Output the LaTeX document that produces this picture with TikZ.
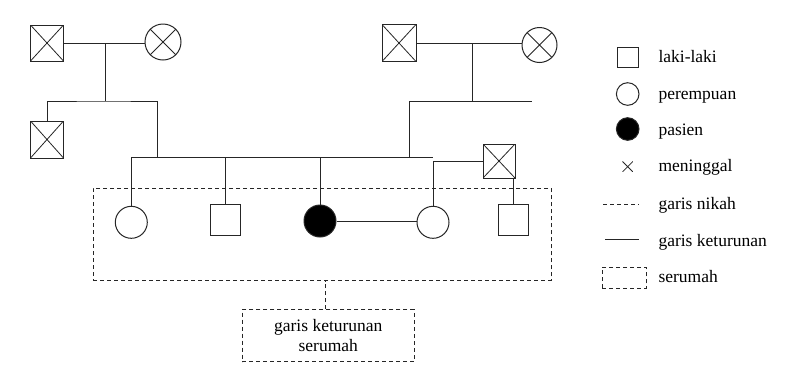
\documentclass[tikz,border=0pt]{standalone}
\usepackage{fontspec}
\setmainfont{Liberation Serif}
\usetikzlibrary{positioning}
\newcommand{\legfont}{\fontsize{17.5}{20}\selectfont}
\tikzset{
  basesym/.style={draw=black!85,line width=1pt,inner sep=0pt},
  malenode/.style={basesym,rectangle,minimum width=33pt,minimum height=36pt},
  femalenode/.style={basesym,circle,minimum size=36pt},
  kidmale/.style={basesym,rectangle,minimum width=30pt,minimum height=31pt},
  kidfemale/.style={basesym,circle,minimum size=32pt},
  patientnode/.style={kidfemale,fill=black},
  deadcross/.style={path picture={
      \draw[line width=0.8pt,black!85]
        (path picture bounding box.north west) -- (path picture bounding box.south east)
        (path picture bounding box.north east) -- (path picture bounding box.south west);}},
  solidline/.style={draw=black!85,line width=1pt},
  dashline/.style={solidline,dash pattern=on 4pt off 3pt},
  homebox/.style={rectangle,dashline,inner sep=0pt},
  legtext/.style={anchor=base west,inner sep=0pt}
}

\begin{document}
\begin{tikzpicture}[x=1pt,y=-1pt,font=\legfont]
  \useasboundingbox[fill=white] (0,0) rectangle (787,365);

  % kakek-nenek
  \node[malenode,deadcross] (kakek1) at (47,43) {};
  \node[femalenode,deadcross] (nenek1) at (163,42) {};
  \node[malenode,deadcross,minimum width=34pt,minimum height=37pt] (kakek2) at (399,43) {};
  \node[femalenode,deadcross,minimum size=35pt] (nenek2) at (539.5,45) {};
  \node[malenode,deadcross,minimum height=37pt] (paman) at (47,139.5) {};
  \node[malenode,deadcross,minimum width=32pt,minimum height=34pt] (mertua) at (499,161) {};

  % generasi pasien
  \node[kidfemale] (anak1) at (131.3,222.3) {};
  \node[kidmale] (anak2) at (225,220) {};
  \node[patientnode] (pasien) at (320,221) {};
  \node[kidfemale] (istri) at (433,222.3) {};
  \node[kidmale] (ipar) at (513.7,220) {};

  \coordinate (m1) at (105,43);
  \coordinate (k1) at (105,101);
  \coordinate (ayah) at (157,157);
  \coordinate (m2) at (472,43);
  \coordinate (k2) at (472,101);
  \coordinate (k2e) at (532,101);
  \coordinate (ibu) at (409,157);
  \coordinate (sibR) at (433,157);

  \draw[solidline] (kakek1) -- (kakek1 -| nenek1.west);
  \draw[solidline] (m1) -- (k1);
  \draw[solidline] (paman.north) |- (k1) -| (ayah);
  \draw[solidline] (kakek2) -- (kakek2 -| nenek2.west);
  \draw[solidline] (m2) -- (k2);
  \draw[solidline] (ibu) |- (k2e);
  \draw[solidline] (anak1.north) |- (sibR);
  \draw[solidline] (anak2.north) -- (anak2.north |- sibR);
  \draw[solidline] (pasien.north) -- (pasien.north |- sibR);
  \draw[solidline] (pasien) -- (pasien -| istri.west);
  \draw[solidline] (istri.north) |- (mertua.west);
  \draw[solidline] (ipar.north) -- (ipar.north |- mertua.south);

  % serumah
  \node[homebox,minimum width=458pt,minimum height=92pt] (rumah) at (322,234.3) {};
  \node[homebox,minimum width=172pt,minimum height=52pt,align=center] (ket)
      at (328.3,335.5) {garis keturunan\\serumah};
  \draw[dashline] ([xshift=-3pt]ket.north) -- ([xshift=-3pt]ket.north |- rumah.south);

  % keterangan
  \node[basesym,rectangle,minimum width=21pt,minimum height=20pt] (legL) at (627.5,57.5) {};
  \node[basesym,circle,minimum size=22.6pt] (legP) at (627.7,94) {};
  \node[basesym,circle,minimum size=22.6pt,fill=black] (legS) at (627.7,129) {};
  \node[deadcross,minimum size=10.5pt,inner sep=0pt] (legM) at (627.7,166.7) {};
  \coordinate (n1) at (603.3,204);
  \coordinate (n2) at (639.3,204);
  \coordinate (t1) at (605,239.5);
  \coordinate (t2) at (639.3,239.5);
  \draw[dashline] (n1) -- (n2);
  \draw[solidline] (t1) -- (t2);
  \node[homebox,minimum width=44pt,minimum height=21pt] (legR) at (624.2,277.8) {};

  \node[legtext] (txL) at (658.3,62.3) {laki-laki};
  \node[legtext] (txP) at (658.3,99.5) {perempuan};
  \node[legtext] (txS) at (658.3,135.5) {pasien};
  \node[legtext] (txM) at (658.3,171.7) {meninggal};
  \node[legtext] (txN) at (658.3,209) {garis nikah};
  \node[legtext] (txK) at (658.3,246) {garis keturunan};
  \node[legtext] (txR) at (658.3,282.3) {serumah};

\end{tikzpicture}
\end{document}
